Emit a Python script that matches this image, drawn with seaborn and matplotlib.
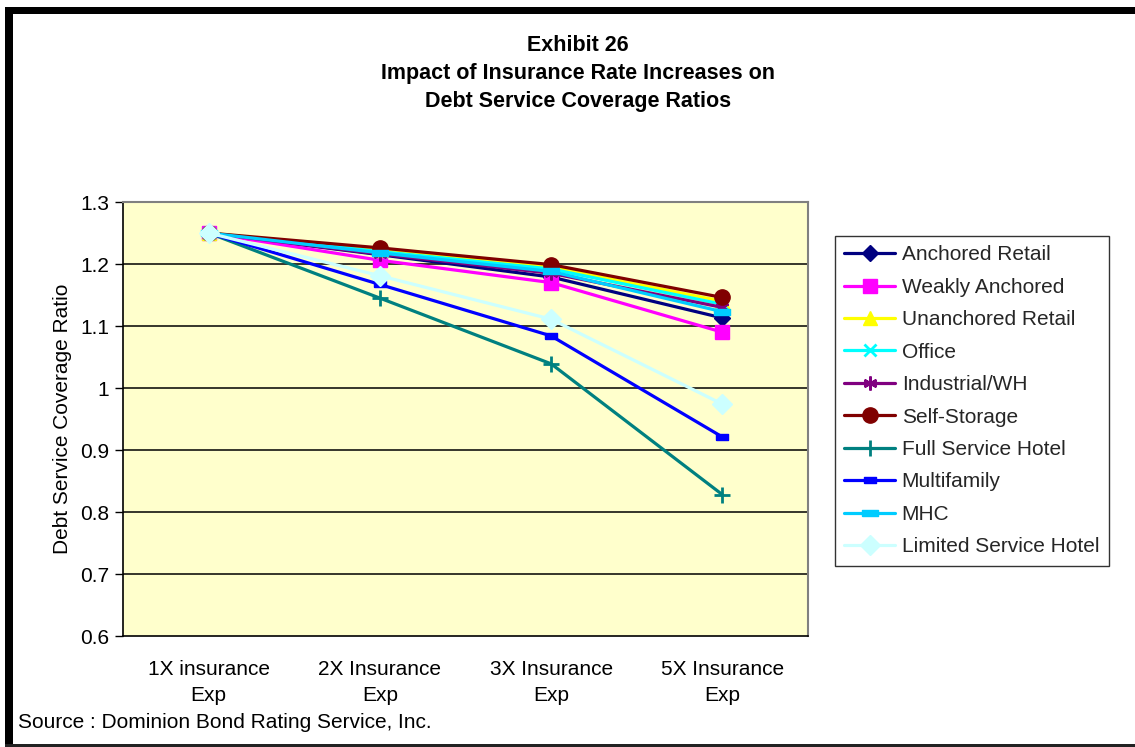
import numpy as np
import pandas as pd
import matplotlib
matplotlib.use("Agg")
import matplotlib.pyplot as plt
from matplotlib.patches import Rectangle
from matplotlib.lines import Line2D
import seaborn as sns

# ---- data -------------------------------------------------------------
categories = ["1X insurance\nExp", "2X Insurance\nExp", "3X Insurance\nExp", "5X Insurance\nExp"]

anchored_retail = [1.25, 1.215, 1.179, 1.113]
weakly_anchored = [1.25, 1.206, 1.170, 1.090]
unanchored_retail = [1.25, 1.222, 1.195, 1.140]
office = [1.25, 1.220, 1.192, 1.135]
industrial_wh = [1.25, 1.216, 1.185, 1.130]
self_storage = [1.25, 1.226, 1.199, 1.146]
full_service_hotel = [1.25, 1.145, 1.039, 0.828]
multifamily = [1.25, 1.167, 1.084, 0.921]
mhc = [1.25, 1.218, 1.188, 1.123]
limited_service_hotel = [1.25, 1.181, 1.111, 0.974]

series_names = ["Anchored Retail", "Weakly Anchored", "Unanchored Retail", "Office",
                "Industrial/WH", "Self-Storage", "Full Service Hotel", "Multifamily",
                "MHC", "Limited Service Hotel"]
series_values = [anchored_retail, weakly_anchored, unanchored_retail, office,
                 industrial_wh, self_storage, full_service_hotel, multifamily,
                 mhc, limited_service_hotel]

y_ticks = [0.6, 0.7, 0.8, 0.9, 1.0, 1.1, 1.2, 1.3]
y_tick_labels = ["0.6", "0.7", "0.8", "0.9", "1", "1.1", "1.2", "1.3"]

title_lines = ["Exhibit 26", "Impact of Insurance Rate Increases on", "Debt Service Coverage Ratios"]
source_note = "Source : Dominion Bond Rating Service, Inc."
y_label = "Debt Service Coverage Ratio"

# ---- styles -----------------------------------------------------------
short_dash = [(-1, -0.55), (1, -0.55), (1, 0.55), (-1, 0.55), (-1, -0.55)]
long_dash = [(-1, -0.4), (1, -0.4), (1, 0.4), (-1, 0.4), (-1, -0.4)]
asterisk = (6, 2, 0)

styles = {
    "Anchored Retail":       dict(color="#000080", marker="D", ms=8),
    "Weakly Anchored":       dict(color="#FF00FF", marker="s", ms=10),
    "Unanchored Retail":     dict(color="#FFFF00", marker="^", ms=10),
    "Office":                dict(color="#00FFFF", marker="x", ms=9, mew=2),
    "Industrial/WH":         dict(color="#800080", marker=asterisk, ms=10, mew=1.8),
    "Self-Storage":          dict(color="#800000", marker="o", ms=11),
    "Full Service Hotel":    dict(color="#008080", marker="+", ms=12, mew=2),
    "Multifamily":           dict(color="#0000FF", marker=short_dash, ms=8),
    "MHC":                   dict(color="#00CCFF", marker=long_dash, ms=12),
    "Limited Service Hotel": dict(color="#CCFFFF", marker="D", ms=10),
}

records = []
for name, vals in zip(series_names, series_values):
    for cat, v in zip(categories, vals):
        records.append({"category": cat, "series": name, "ratio": v})
df = pd.DataFrame(records)

# ---- figure -----------------------------------------------------------
sns.set_theme(style="white")
plt.rcParams["font.family"] = ["Liberation Sans", "DejaVu Sans"]

FS = 15
W, H = 1135, 747
fig = plt.figure(figsize=(W / 100, H / 100), dpi=100)
fig.patch.set_facecolor("white")

ax = fig.add_axes([123 / W, 1 - 636 / H, 685 / W, 434 / H])
ax.set_facecolor("#FFFFCC")

for name in series_names:
    st = styles[name]
    sub = df[df["series"] == name]
    sns.lineplot(data=sub, x="category", y="ratio", ax=ax, color=st["color"],
                 linewidth=2.3, sort=False, legend=False, zorder=3)
    line = ax.lines[-1]
    line.set_marker(st["marker"])
    line.set_markersize(st["ms"])
    line.set_markerfacecolor(st["color"])
    line.set_markeredgecolor(st["color"])
    line.set_markeredgewidth(st.get("mew", 1.0))

ax.set_xlim(-0.5, len(categories) - 0.5)
ax.set_ylim(0.6, 1.3)
ax.set_yticks(y_ticks)
ax.set_yticklabels(y_tick_labels, fontsize=FS, color="black")
ax.set_xticks(range(len(categories)))
ax.set_xticklabels(categories, fontsize=FS, color="black", linespacing=1.48)
ax.set_xticks(np.arange(-0.5, len(categories), 1.0), minor=True)
ax.tick_params(axis="x", which="major", length=0, pad=17)
ax.tick_params(axis="x", which="minor", length=6, width=1, color="black", direction="out")
ax.tick_params(axis="y", length=6, width=1, color="black", direction="out", pad=4, left=True)
ax.set_xlabel("")
ax.set_ylabel(y_label, fontsize=FS, color="black", labelpad=6)

for y in y_ticks[1:-1]:
    ax.axhline(y, color="black", linewidth=1.1, zorder=1)

for side in ["top", "right"]:
    ax.spines[side].set_color("#808080")
    ax.spines[side].set_linewidth(1.5)
for side in ["left", "bottom"]:
    ax.spines[side].set_color("black")
    ax.spines[side].set_linewidth(1.2)

# legend
handles = []
for name in series_names:
    st = styles[name]
    handles.append(Line2D([0], [0], color=st["color"], linewidth=2.3,
                          marker=st["marker"], markersize=st["ms"],
                          markerfacecolor=st["color"], markeredgecolor=st["color"],
                          markeredgewidth=st.get("mew", 1.0)))
leg = fig.legend(handles, series_names, loc="upper left",
                 bbox_to_anchor=(835 / W, 1 - 236 / H), fontsize=FS,
                 frameon=True, fancybox=False, handlelength=2.45, handletextpad=0.3,
                 labelspacing=0.645, borderpad=0.45, borderaxespad=0)
leg.get_frame().set_edgecolor("black")
leg.get_frame().set_linewidth(1.0)

# title and source note
for text, ybase in zip(title_lines, [51, 79, 107]):
    fig.text(578 / W, 1 - ybase / H, text, ha="center", va="baseline",
             fontsize=15.5, fontweight="bold", color="black")
fig.text(18 / W, 1 - 722 / H, source_note,
         ha="left", va="center", fontsize=FS, color="black")

# outer chart frame
fig.add_artist(Rectangle((5 / W, 1 - 14 / H), 1 - 5 / W, 7 / H, transform=fig.transFigure,
                         facecolor="black", edgecolor="none"))
fig.add_artist(Rectangle((5 / W, 0), 8 / W, 1 - 7 / H, transform=fig.transFigure,
                         facecolor="black", edgecolor="none"))
fig.add_artist(Rectangle((5 / W, 0), 1 - 5 / W, 3 / H, transform=fig.transFigure,
                         facecolor="#222222", edgecolor="none"))

fig.savefig("out.png", dpi=100, facecolor="white")
